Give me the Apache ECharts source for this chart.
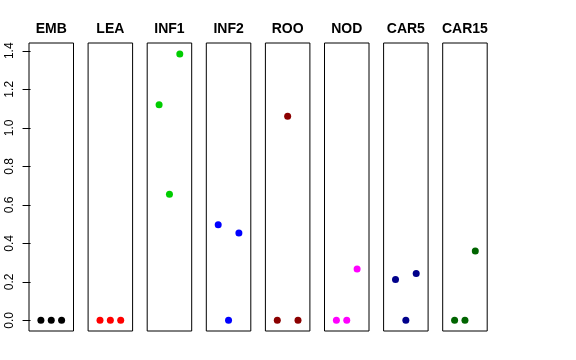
<!DOCTYPE html>
<html><head><meta charset="utf-8">
<script src="https://cdn.jsdelivr.net/npm/echarts@6/dist/echarts.min.js"></script>
<style>html,body{margin:0;padding:0;background:#fff}#c{width:576px;height:360px}</style>
</head><body><div id="c"></div>
<script>
const categories = ['EMB','LEA','INF1','INF2','ROO','NOD','CAR5','CAR15'];
const colors = ['#000000','#FF0000','#00CD00','#0000FF','#8B0000','#FF00FF','#00008B','#006400'];
const positions = [1,2,3];
const EMB = [0,0,0];
const LEA = [0,0,0];
const INF1 = [1.12,0.655,1.383];
const INF2 = [0.497,0,0.454];
const ROO = [0,1.06,0];
const NOD = [0,0,0.267];
const CAR5 = [0.2115,0,0.243];
const CAR15 = [0,0,0.36];
const yTicks = [0,0.2,0.4,0.6,0.8,1.0,1.2,1.4];
const values = [EMB,LEA,INF1,INF2,ROO,NOD,CAR5,CAR15];

const chart = echarts.init(document.getElementById('c'), null, {renderer:'canvas'});
const grids=[],xAxes=[],yAxes=[],series=[],texts=[];
const gLeft0=29, gStep=59.1, gW=44.5, gTop=43, gH=288;
const ymin=-0.0554, ymax=1.4404;
categories.forEach((cat,i)=>{
  const l = gLeft0 + i*gStep;
  grids.push({left:l, top:gTop, width:gW, height:gH, show:true, borderColor:'#000', borderWidth:1, backgroundColor:'transparent'});
  xAxes.push({type:'value', gridIndex:i, min:-0.15, max:4.15, show:false});
  yAxes.push({type:'value', gridIndex:i, min:ymin, max:ymax, show:i===0,
    splitLine:{show:false},
    axisLine:{show:false},
    axisTick:{show:true, length:8, lineStyle:{color:'#000'}, customValues:yTicks},
    axisLabel:{show:true, rotate:90, margin:13, fontSize:12, color:'#000', fontFamily:'Liberation Sans, Arial, sans-serif', customValues:yTicks,
      formatter:v=>v.toFixed(1)}
  });
  series.push({type:'scatter', xAxisIndex:i, yAxisIndex:i, symbol:'circle', symbolSize:7,
    itemStyle:{color:colors[i], opacity:1}, silent:true, animation:false,
    data: positions.map((p,j)=>[p, values[i][j]])});
  texts.push({type:'text', x:l+gW/2, y:29.5, silent:true,
    style:{text:cat, align:'center', verticalAlign:'middle', fontSize:14, fontWeight:'bold', fill:'#000', fontFamily:'Liberation Sans, Arial, sans-serif'}});
});
chart.setOption({animation:false, graphic:texts, grid:grids, xAxis:xAxes, yAxis:yAxes, series:series});
</script></body></html>
